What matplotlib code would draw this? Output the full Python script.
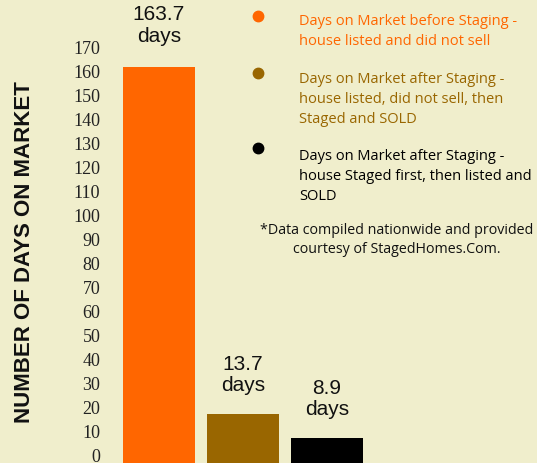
import matplotlib.pyplot as plt
from matplotlib.lines import Line2D

# bar heights as drawn, and the labels printed above them
categories = ['before', 'after_relist', 'after_first']
heights = [161.7, 16.7, 6.7]
value_labels = ['163.7\ndays', '13.7\ndays', '8.9\ndays']
colors = ['#FF6600', '#996600', '#000000']
legend_texts = [
    'Days on Market before Staging -\nhouse listed and did not sell',
    'Days on Market after Staging -\nhouse listed, did not sell, then\nStaged and SOLD',
    'Days on Market after Staging -\nhouse Staged first, then listed and\nSOLD',
]
yticks = list(range(0, 171, 10))
bg = '#F0EECC'

fig = plt.figure(figsize=(5.37, 4.64), dpi=100, facecolor=bg)
ax = fig.add_axes([110 / 537, 0, 427 / 537, 1])
ax.set_facecolor(bg)

ylo, yhi = -3.6, 190.0
x = list(range(len(categories)))
# bars run off the bottom edge, like the reference
ax.bar(x, [h - ylo for h in heights], bottom=ylo, width=72 / 84, color=colors)
ax.set_xlim(-0.583, 4.5)
ax.set_ylim(ylo, yhi)

for s in ax.spines.values():
    s.set_visible(False)
ax.set_xticks([])
ax.set_yticks(yticks)
ax.set_yticklabels([str(t) for t in yticks], family='Liberation Serif',
                   fontsize=13, color='#222222')
ax.tick_params(axis='y', length=0, pad=7)

# value labels above bars
label_y = [171, 25, 15]
for xi, lab, ly in zip(x, value_labels, label_y):
    ax.text(xi, ly, lab, ha='center', va='bottom', fontsize=15,
            family='Liberation Sans', color='#111111', linespacing=1.15)

fig.text(25 / 537, 1 - 252 / 464, 'NUMBER OF DAYS ON MARKET', rotation=90,
         ha='center', va='center', fontsize=16, fontweight='bold',
         family='Liberation Sans', color='#111111')

# legend
marker_y = [17, 74, 149]
text_y = [14, 72, 149]
for c, txt, my, ty in zip(colors, legend_texts, marker_y, text_y):
    fig.add_artist(Line2D([258 / 537], [1 - my / 464], marker='o',
                          markersize=7.5, color=c, linestyle='none',
                          transform=fig.transFigure))
    fig.text(299 / 537, 1 - ty / 464, txt, ha='left', va='top', fontsize=10.5,
             family='Open Sans', color=c, linespacing=1.45)

fig.text(397 / 537, 1 - 223 / 464,
         '*Data compiled nationwide and provided\ncourtesy of StagedHomes.Com.',
         ha='center', va='top', fontsize=10.3, family='Open Sans',
         color='#111111', linespacing=1.4)

fig.savefig('out.png', dpi=100, facecolor=bg)
